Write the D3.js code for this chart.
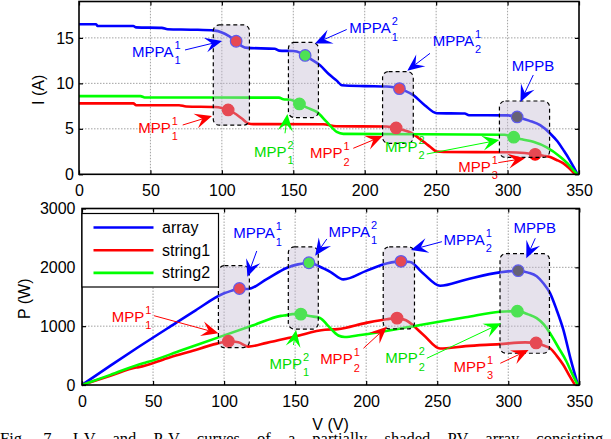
<!DOCTYPE html>
<html>
<head>
<meta charset="utf-8">
<script src="https://cdn.jsdelivr.net/npm/d3@7/dist/d3.min.js"></script>
<style>
  body { margin: 0; background: #fff; }
  svg { display: block; }
</style>
</head>
<body>
<script>
// ---- data ----
const vTicks = [0, 50, 100, 150, 200, 250, 300, 350];
const iTicks = [0, 5, 10, 15];
const pTicks = [0, 1000, 2000, 3000];
const seriesNames = ["array", "string1", "string2"];

// I-V curves [V, I]
const arrayIV = [[0,16.5],[12,16.5],[13,16.3],[38,16.3],[40,16.15],[58,16.1],[62,15.95],[80,15.9],[95,15.8],[100,15.6],[105,15.2],[110,14.63],[114,14.1],[118,13.9],[137,13.8],[140,13.6],[150,13.55],[155,13.35],[158.3,13.07],[162,12.7],[168.7,12.0],[175,11.0],[180.4,10.3],[184,9.8],[200,9.7],[215,9.65],[220,9.58],[224.3,9.42],[228,9.2],[234,8.7],[242,7.6],[250.4,6.72],[270,6.68],[273,6.5],[300,6.48],[306.7,6.31],[315,5.9],[322.8,5.4],[329.8,4.49],[335,3.6],[339.1,2.66],[343,1.7],[346.1,0.83],[349,0]];
const string1IV = [[0,7.8],[38,7.8],[40,7.6],[70,7.6],[75,7.45],[95,7.4],[100,7.3],[104.4,7.08],[110,6.6],[114,6.13],[118.6,5.58],[122,5.52],[171,5.5],[180,5.28],[215,5.26],[219,5.2],[222,5.1],[226,4.9],[232,4.6],[241,3.6],[246,3.0],[250.4,2.5],[255,2.45],[300,2.43],[312,2.35],[319.3,2.2],[325,2.05],[329.8,1.9],[334,1.6],[339.1,1.2],[343,0.7],[347.3,0]];
const string2IV = [[0,8.6],[43,8.6],[46,8.45],[140,8.43],[143,8.25],[148,8.2],[151,8.05],[154.3,7.74],[160,7.3],[166.4,6.86],[173.4,5.76],[180.4,4.67],[185,4.45],[298,4.35],[301,4.25],[304.3,4.08],[310,3.85],[318,3.57],[327.4,2.96],[336.8,1.93],[342,1.2],[346.1,0.47],[349,0]];

// P-V curves [V, P]
const arrayPV = [[0,0],[20,330],[40,650],[60,960],[80,1270],[100,1560],[105,1600],[110.8,1640],[117,1632],[130,1800],[144,1990],[152,2050],[159.7,2078],[167.5,2010],[175,1920],[184,1795],[200,1940],[215,2070],[224.5,2102],[230.9,2090],[240,1900],[252,1687],[270,1790],[294,1914],[307,1943],[314,1910],[320,1847],[325,1720],[329.4,1562],[334,1280],[338.8,937],[344,430],[349,0]];
const string1PV = [[0,0],[20,156],[38,296],[40,304],[60,456],[75,560],[95,703],[103,744],[110,726],[117,653],[130,716],[150,826],[171,940],[180,950],[200,1056],[214.5,1118],[221.7,1137],[228,1100],[240,860],[252,620],[270,660],[294,695],[312,725],[319.6,715],[325,670],[329.4,625],[334,500],[338.8,340],[343,160],[347,0]];
const string2PV = [[0,0],[20,172],[43,370],[46,389],[70,590],[97,818],[120,1010],[140,1175],[144,1188],[148,1205],[154,1205],[160,1172],[167.5,1140],[173.4,1000],[180.4,842],[185,815],[196,850],[238,1020],[270,1150],[294,1245],[306.4,1255],[314,1200],[320,1136],[325,1030],[329.4,880],[335,650],[341,400],[345,190],[349,0]];

// maximum power points
const mppNames = ["MPPA11", "MPPA21", "MPPA12", "MPPB", "MPP11", "MPP21", "MPP12", "MPP22", "MPP13"];
const mppIV = [[110,14.63],[158.3,13.07],[224.3,9.42],[306.7,6.31],[104.4,7.08],[154.3,7.74],[222,5.1],[304.3,4.08],[319.3,2.2]];
const mppPV = [[110.8,1640],[159.7,2078],[224.5,2102],[307,1943],[103,744],[154,1205],[221.7,1137],[306.4,1255],[319.6,715]];

// shaded regions [V0, V1, y0, y1]
const boxesIV = [[94,119.3,5.4,16.43],[146.6,167.6,6.24,14.5],[212.5,234,3.4,11.3],[294.3,329.4,1.86,8.06]];
const boxesPV = [[96,117.8,636,2028],[145.2,166.3,949,2347],[212,234,954,2347],[294.2,329,540,2233]];

// annotation anchors: label, arrow tail, arrow tip (data units)
const labelIV = [[37.1,12.93],[189.2,15.5],[247.6,14.11],[302.9,11.39],[41.5,4.57],[122.5,1.94],[161.7,1.76],[214.2,2.48],[265.5,0.29]];
const tailIV = [[74.2,13.67],[187.4,15.92],[245.7,13.3],[318,10.92],[72.6,5.42],[144.2,4.51],[192,2.86],[243.4,2.23],[293.5,1.28]];
const tipIV = [[100.1,14.66],[165.2,14.38],[229.8,11.39],[309,7.95],[93.1,6.41],[145.9,6.63],[212.6,4.21],[294.2,3.77],[312.2,1.76]];
const labelPV = [[106.5,2494],[173.5,2521],[254.4,2380],[303.7,2579],[20.9,1076],[131.9,272],[167.6,352],[213.4,369],[261.5,226]];
const tailPV = [[123,2278],[172.3,2482],[253.3,2436],[319,2494],[50.7,1178],[148.8,680],[198.1,624],[242.7,454],[294.4,369]];
const tipPV = [[116.4,1841],[164.1,2198],[231.5,2295],[312.7,2154],[96,879],[150.7,935],[214.6,991],[294.9,1049],[314.3,595]];

const caption = "Fig. 7.  I-V and P-V curves of a partially shaded PV array consisting";

// ---- styles ----
const width = 611, height = 439;
const font = "Arial, 'Liberation Sans', sans-serif";
const seriesColor = { array: "#0000ff", string1: "#ff0000", string2: "#00ff00" };

function mppStyle(name) {
  // label text pieces + marker face + edge
  const onArray = name.startsWith("MPPA") || name === "MPPB";
  const digits = name.replace(/[A-Z]/g, "");
  let face = "#ff0000", text = "#ff0000";
  if (name === "MPPB") face = "#2a2a3a";
  else if (digits[0] === "2") face = "#00ff00";
  if (onArray) text = "#0000ff";
  else if (digits[0] === "2") text = "#00dd00";
  return {
    base: name === "MPPB" ? "MPPB" : name.replace(/\d/g, ""),
    sup: digits[0] || "",
    sub: digits[1] || "",
    face: face,
    edge: onArray ? "#2020ff" : face,
    text: text,
    arrow: text === "#00dd00" ? "#00ff00" : text,
  };
}

const svg = d3.select("body").append("svg")
  .attr("width", width)
  .attr("height", height)
  .attr("viewBox", [0, 0, width, height])
  .style("font-family", font);

function drawPanel({ xRange, yRange, yDomain, yTicks, yPad, yLabel, yLabelX, curves, points, boxes, labels, tails, tips, legend }) {
  const x = d3.scaleLinear().domain([0, 350]).range(xRange);
  const y = d3.scaleLinear().domain(yDomain).range(yRange);
  const g = svg.append("g");

  // grid
  const grid = g.append("g")
    .attr("stroke", "#8a8a8a")
    .attr("stroke-width", 0.8)
    .attr("stroke-dasharray", "1.5,1.5");
  grid.selectAll(".gx")
    .data(vTicks.slice(1, -1))
    .join("line")
    .attr("x1", (d) => x(d)).attr("x2", (d) => x(d))
    .attr("y1", yRange[0]).attr("y2", yRange[1]);
  grid.selectAll(".gy")
    .data(yTicks.filter((d) => d > yDomain[0] && d < yDomain[1]))
    .join("line")
    .attr("x1", xRange[0]).attr("x2", xRange[1])
    .attr("y1", (d) => y(d)).attr("y2", (d) => y(d));

  // curves
  const line = d3.line()
    .x((d) => x(d[0]))
    .y((d) => y(d[1]))
    .curve(d3.curveMonotoneX);
  g.append("g")
    .selectAll("path")
    .data(curves)
    .join("path")
    .attr("d", (d) => line(d.values))
    .attr("fill", "none")
    .attr("stroke", (d) => seriesColor[d.name])
    .attr("stroke-width", 2.6)
    .attr("stroke-linejoin", "round");

  // markers
  g.append("g")
    .selectAll("circle")
    .data(points)
    .join("circle")
    .attr("cx", (d) => x(d[0]))
    .attr("cy", (d) => y(d[1]))
    .attr("r", 5.8)
    .attr("fill", (d, i) => mppStyle(mppNames[i]).face)
    .attr("stroke", (d, i) => mppStyle(mppNames[i]).edge)
    .attr("stroke-width", 1.2);

  // shaded boxes on top
  g.append("g")
    .selectAll("rect")
    .data(boxes)
    .join("rect")
    .attr("x", (d) => x(d[0]))
    .attr("y", (d) => y(d[3]))
    .attr("width", (d) => x(d[1]) - x(d[0]))
    .attr("height", (d) => y(d[2]) - y(d[3]))
    .attr("rx", 6)
    .attr("fill", "#c1b7cf")
    .attr("fill-opacity", 0.4)
    .attr("stroke", "#000")
    .attr("stroke-width", 1.2)
    .attr("stroke-dasharray", "4,3");

  // arrows
  const ag = g.append("g");
  tails.forEach((t, i) => {
    const st = mppStyle(mppNames[i]);
    const x1 = x(t[0]), y1 = y(t[1]);
    const x2 = x(tips[i][0]), y2 = y(tips[i][1]);
    const len = Math.hypot(x2 - x1, y2 - y1);
    const ux = (x2 - x1) / len, uy = (y2 - y1) / len;
    const hl = 17, hw = 7.5;
    const bx = x2 - ux * hl, by = y2 - uy * hl;
    const nx = x2 - ux * hl * 0.6, ny = y2 - uy * hl * 0.6;
    ag.append("line")
      .attr("x1", x1).attr("y1", y1)
      .attr("x2", nx).attr("y2", ny)
      .attr("stroke", st.arrow)
      .attr("stroke-width", 1);
    ag.append("path")
      .attr("d", `M${x2},${y2}L${bx - uy * hw},${by + ux * hw}L${nx},${ny}L${bx + uy * hw},${by - ux * hw}Z`)
      .attr("fill", st.arrow);
  });

  // labels with stacked super/subscripts
  labels.forEach((p, i) => {
    const st = mppStyle(mppNames[i]);
    const lx = x(p[0]), ly = y(p[1]);
    const t = ag.append("text")
      .attr("x", lx).attr("y", ly)
      .attr("font-size", 15)
      .attr("fill", st.text)
      .text(st.base);
    const w = t.node().getComputedTextLength();
    if (st.sup) {
      ag.append("text").attr("x", lx + w + 1).attr("y", ly - 8)
        .attr("font-size", 11).attr("fill", st.text).text(st.sup);
      ag.append("text").attr("x", lx + w + 1).attr("y", ly + 7.5)
        .attr("font-size", 11).attr("fill", st.text).text(st.sub);
    }
  });

  // axes: inward ticks on all four sides
  const axes = g.append("g");
  axes.append("g")
    .attr("transform", `translate(0,${yRange[0]})`)
    .call(d3.axisBottom(x).tickValues(vTicks).tickSize(-4).tickPadding(10.5).tickFormat(d3.format("d")));
  axes.append("g")
    .attr("transform", `translate(0,${yRange[1]})`)
    .call(d3.axisTop(x).tickValues(vTicks).tickSize(-4).tickFormat(""));
  axes.append("g")
    .attr("transform", `translate(${xRange[0]},0)`)
    .call(d3.axisLeft(y).tickValues(yTicks).tickSize(-4).tickPadding(yPad).tickFormat(d3.format("d")));
  axes.append("g")
    .attr("transform", `translate(${xRange[1]},0)`)
    .call(d3.axisRight(y).tickValues(yTicks).tickSize(-4).tickFormat(""));
  axes.selectAll(".domain").remove();
  axes.selectAll(".tick line").attr("stroke", "#000").attr("stroke-width", 1.2);
  axes.selectAll(".tick text")
    .attr("font-size", 16)
    .attr("font-family", font)
    .attr("fill", "#000");

  g.append("rect")
    .attr("x", xRange[0]).attr("y", yRange[1])
    .attr("width", xRange[1] - xRange[0])
    .attr("height", yRange[0] - yRange[1])
    .attr("fill", "none")
    .attr("stroke", "#000")
    .attr("stroke-width", 1.6);

  // y label
  g.append("text")
    .attr("transform", `translate(${yLabelX},${(yRange[0] + yRange[1]) / 2 + 2})rotate(-90)`)
    .attr("text-anchor", "middle")
    .attr("font-size", 16)
    .text(yLabel);

  // legend
  if (legend) {
    const lg = g.append("g").attr("transform", `translate(${xRange[0]},${yRange[1] + 5})`);
    lg.append("rect")
      .attr("width", 136.5).attr("height", 73.5)
      .attr("fill", "#fff")
      .attr("stroke", "#000")
      .attr("stroke-width", 1.2);
    seriesNames.forEach((name, i) => {
      const ry = 14 + i * 22.7;
      lg.append("line")
        .attr("x1", 11.5).attr("x2", 71.5)
        .attr("y1", ry).attr("y2", ry)
        .attr("stroke", seriesColor[name])
        .attr("stroke-width", 2.6);
      lg.append("text")
        .attr("x", 80).attr("y", ry + 5.5)
        .attr("font-size", 16)
        .text(name);
    });
  }
  return x;
}

// top: I-V
drawPanel({
  xRange: [79, 579],
  yRange: [174.3, 1.5],
  yDomain: [0, 19],
  yTicks: iTicks,
  yPad: 5,
  yLabel: "I (A)",
  yLabelX: 44,
  curves: [
    { name: "array", values: arrayIV },
    { name: "string1", values: string1IV },
    { name: "string2", values: string2IV },
  ],
  points: mppIV,
  boxes: boxesIV,
  labels: labelIV,
  tails: tailIV,
  tips: tipIV,
  legend: false,
});

// bottom: P-V
drawPanel({
  xRange: [82, 579.3],
  yRange: [385, 208.5],
  yDomain: [0, 3000],
  yTicks: pTicks,
  yPad: 6.5,
  yLabel: "P (W)",
  yLabelX: 30,
  curves: [
    { name: "array", values: arrayPV },
    { name: "string1", values: string1PV },
    { name: "string2", values: string2PV },
  ],
  points: mppPV,
  boxes: boxesPV,
  labels: labelPV,
  tails: tailPV,
  tips: tipPV,
  legend: true,
});

// x label
svg.append("text")
  .attr("x", 330.5)
  .attr("y", 430)
  .attr("text-anchor", "middle")
  .attr("font-size", 16)
  .text("V (V)");

// caption, cut off by the page edge as in the source
svg.append("text")
  .attr("x", 0)
  .attr("y", 443.5)
  .attr("font-family", "'Liberation Serif', 'Times New Roman', serif")
  .attr("font-size", 16.5)
  .attr("word-spacing", 13)
  .text(caption);
</script>
</body>
</html>
